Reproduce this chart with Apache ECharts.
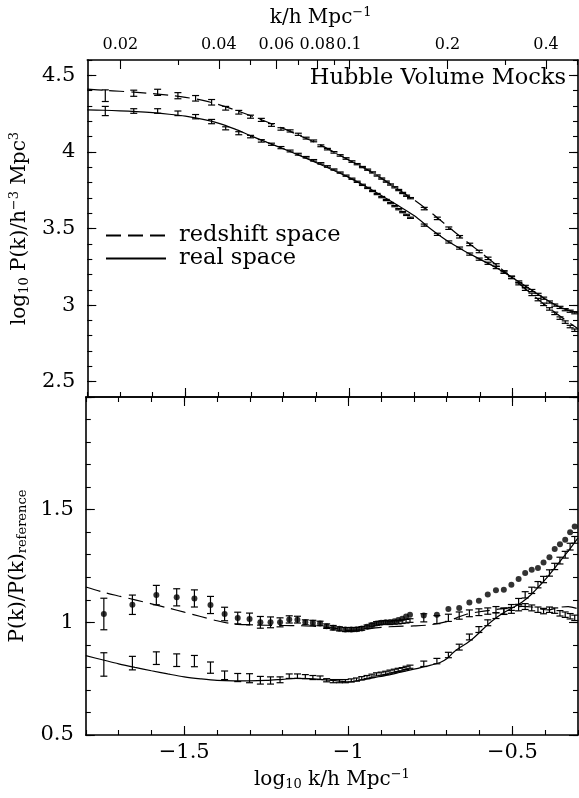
<!DOCTYPE html>
<html><head><meta charset="utf-8">
<script src="https://cdn.jsdelivr.net/npm/echarts@6/dist/echarts.min.js"></script>
<style>html,body{margin:0;padding:0;background:#fff}#c{width:579px;height:798px}</style>
</head><body><div id="c"></div>
<script>
// ---- data ----
const logK = [-1.745,-1.658,-1.585,-1.523,-1.469,-1.420,-1.377,-1.337,-1.301,-1.268,-1.237,-1.208,-1.180,-1.155,-1.131,-1.108,-1.086,-1.066,-1.046,-1.027,-1.009,-0.991,-0.975,-0.959,-0.943,-0.928,-0.914,-0.900,-0.886,-0.873,-0.860,-0.848,-0.836,-0.824,-0.812,-0.770,-0.730,-0.695,-0.662,-0.631,-0.602,-0.575,-0.550,-0.526,-0.503,-0.481,-0.461,-0.441,-0.422,-0.405,-0.387,-0.371,-0.355,-0.339,-0.324,-0.310];

const topRedshift = [4.367,4.383,4.389,4.367,4.350,4.324,4.285,4.259,4.230,4.209,4.176,4.150,4.137,4.115,4.090,4.072,4.040,4.018,3.997,3.977,3.957,3.937,3.920,3.901,3.884,3.866,3.846,3.826,3.806,3.787,3.769,3.751,3.732,3.714,3.698,3.630,3.566,3.502,3.446,3.396,3.350,3.305,3.262,3.216,3.180,3.140,3.104,3.070,3.036,3.005,2.975,2.946,2.915,2.889,2.860,2.836];
const topRedshiftErr = [0.038,0.020,0.020,0.020,0.018,0.018,0.012,0.012,0.010,0.010,0.009,0.008,0.007,0.007,0.006,0.006,0.006,0.005,0.005,0.005,0.005,0.005,0.004,0.004,0.004,0.004,0.004,0.004,0.004,0.004,0.004,0.004,0.004,0.004,0.004,0.008,0.008,0.008,0.008,0.008,0.008,0.008,0.008,0.008,0.008,0.008,0.008,0.008,0.008,0.008,0.008,0.008,0.008,0.008,0.008,0.008];
const topReal = [4.267,4.267,4.267,4.252,4.230,4.198,4.154,4.122,4.100,4.072,4.050,4.028,4.006,3.985,3.965,3.945,3.925,3.905,3.885,3.865,3.845,3.825,3.805,3.785,3.765,3.745,3.725,3.705,3.686,3.666,3.646,3.626,3.607,3.589,3.570,3.522,3.462,3.412,3.372,3.333,3.300,3.273,3.245,3.215,3.182,3.151,3.122,3.095,3.070,3.045,3.020,3.000,2.985,2.970,2.960,2.950];
const topRealErr = [0.030,0.015,0.015,0.015,0.014,0.014,0.010,0.010,0.008,0.008,0.007,0.007,0.006,0.006,0.005,0.005,0.005,0.005,0.004,0.004,0.004,0.004,0.004,0.004,0.004,0.004,0.004,0.004,0.004,0.004,0.004,0.004,0.004,0.004,0.004,0.007,0.007,0.007,0.007,0.007,0.007,0.007,0.007,0.007,0.007,0.007,0.007,0.007,0.007,0.007,0.007,0.007,0.007,0.007,0.007,0.007];

const ratioRedshift = [1.037,1.078,1.121,1.111,1.106,1.077,1.037,1.019,1.015,1.000,1.000,1.000,1.013,1.012,1.000,0.998,0.995,0.983,0.976,0.971,0.968,0.968,0.969,0.973,0.980,0.988,0.995,0.998,1.000,0.998,1.000,1.001,1.003,1.005,1.008,1.020,1.012,1.020,1.030,1.040,1.045,1.050,1.056,1.050,1.053,1.064,1.070,1.064,1.056,1.050,1.056,1.052,1.040,1.034,1.027,1.020];
const ratioRedshiftErr = [0.070,0.043,0.043,0.038,0.038,0.038,0.030,0.026,0.026,0.026,0.024,0.020,0.016,0.015,0.011,0.011,0.010,0.010,0.010,0.009,0.009,0.009,0.008,0.008,0.008,0.008,0.008,0.008,0.008,0.008,0.008,0.008,0.008,0.008,0.008,0.018,0.018,0.016,0.016,0.015,0.015,0.014,0.014,0.014,0.013,0.013,0.013,0.013,0.012,0.012,0.012,0.012,0.012,0.012,0.012,0.012];
const ratioDots = [1.037,1.078,1.121,1.111,1.106,1.077,1.037,1.019,1.015,1.000,1.000,1.000,1.013,1.012,1.000,0.998,0.995,0.983,0.976,0.971,0.968,0.968,0.969,0.973,0.980,0.988,0.995,0.998,1.000,1.001,1.005,1.010,1.016,1.026,1.034,1.030,1.034,1.059,1.064,1.088,1.096,1.123,1.142,1.145,1.167,1.192,1.219,1.233,1.241,1.265,1.289,1.325,1.347,1.366,1.400,1.425];
const ratioReal = [0.813,0.819,0.841,0.832,0.828,0.799,0.765,0.755,0.752,0.743,0.742,0.745,0.761,0.761,0.759,0.755,0.754,0.743,0.739,0.739,0.739,0.742,0.746,0.752,0.757,0.763,0.769,0.772,0.776,0.781,0.785,0.789,0.792,0.798,0.803,0.816,0.828,0.855,0.890,0.935,0.968,0.998,1.030,1.048,1.066,1.093,1.122,1.142,1.167,1.190,1.219,1.248,1.274,1.300,1.336,1.366];
const ratioRealErr = [0.052,0.030,0.028,0.028,0.025,0.025,0.019,0.018,0.020,0.017,0.016,0.013,0.010,0.010,0.009,0.009,0.008,0.007,0.007,0.007,0.007,0.007,0.007,0.007,0.007,0.007,0.007,0.007,0.007,0.007,0.007,0.007,0.007,0.007,0.007,0.012,0.012,0.012,0.013,0.013,0.013,0.013,0.013,0.013,0.013,0.013,0.014,0.014,0.014,0.014,0.014,0.014,0.015,0.015,0.015,0.015];

const lineTopRedshift = [[-1.80,4.410],[-1.745,4.402],[-1.70,4.396],[-1.658,4.390],[-1.60,4.381],[-1.55,4.370],[-1.50,4.356],[-1.45,4.338],[-1.40,4.310],[-1.35,4.275],[-1.30,4.236],[-1.25,4.195],[-1.20,4.152],[-1.15,4.105],[-1.10,4.058],[-1.05,4.004],[-1.00,3.946],[-0.95,3.890],[-0.90,3.826],[-0.85,3.756],[-0.80,3.685],[-0.75,3.605],[-0.70,3.517],[-0.65,3.430],[-0.60,3.348],[-0.55,3.263],[-0.50,3.176],[-0.45,3.087],[-0.40,3.000],[-0.35,2.920],[-0.30,2.846]];
const lineTopReal = [[-1.80,4.274],[-1.75,4.272],[-1.70,4.268],[-1.65,4.263],[-1.60,4.256],[-1.55,4.246],[-1.50,4.233],[-1.45,4.214],[-1.40,4.188],[-1.35,4.150],[-1.30,4.105],[-1.25,4.062],[-1.20,4.020],[-1.15,3.976],[-1.10,3.930],[-1.05,3.882],[-1.00,3.832],[-0.95,3.776],[-0.90,3.714],[-0.85,3.650],[-0.80,3.583],[-0.75,3.497],[-0.70,3.420],[-0.65,3.357],[-0.60,3.300],[-0.55,3.244],[-0.50,3.178],[-0.45,3.110],[-0.40,3.040],[-0.35,2.982],[-0.30,2.950]];
const lineRatioRedshift = [[-1.80,1.157],[-1.75,1.135],[-1.70,1.117],[-1.65,1.100],[-1.60,1.082],[-1.55,1.064],[-1.50,1.045],[-1.45,1.026],[-1.40,1.007],[-1.35,0.993],[-1.30,0.989],[-1.25,0.987],[-1.20,0.986],[-1.15,0.985],[-1.10,0.982],[-1.05,0.975],[-1.02,0.968],[-1.00,0.964],[-0.97,0.966],[-0.94,0.972],[-0.90,0.978],[-0.85,0.982],[-0.80,0.984],[-0.75,0.989],[-0.70,1.003],[-0.67,1.020],[-0.64,1.036],[-0.60,1.047],[-0.55,1.057],[-0.50,1.066],[-0.47,1.071],[-0.44,1.068],[-0.41,1.058],[-0.39,1.055],[-0.36,1.066],[-0.33,1.070],[-0.30,1.060]];
const lineRatioReal = [[-1.80,0.852],[-1.75,0.834],[-1.70,0.816],[-1.65,0.800],[-1.60,0.785],[-1.55,0.771],[-1.50,0.758],[-1.45,0.749],[-1.40,0.742],[-1.35,0.740],[-1.30,0.740],[-1.25,0.742],[-1.20,0.747],[-1.16,0.751],[-1.12,0.750],[-1.08,0.746],[-1.04,0.741],[-1.00,0.736],[-0.96,0.744],[-0.92,0.755],[-0.88,0.766],[-0.84,0.779],[-0.80,0.792],[-0.76,0.806],[-0.72,0.822],[-0.70,0.838],[-0.68,0.866],[-0.66,0.888],[-0.64,0.906],[-0.62,0.928],[-0.60,0.955],[-0.575,0.990],[-0.545,1.025],[-0.52,1.048],[-0.495,1.068],[-0.47,1.090],[-0.445,1.120],[-0.42,1.158],[-0.394,1.200],[-0.37,1.243],[-0.344,1.290],[-0.32,1.335],[-0.30,1.375]];

// tick labels
const xMajor = [-1.5, -1, -0.5];
const kMajor = [0.02, 0.04, 0.06, 0.08, 0.1, 0.2, 0.4];
const kMinor = [0.03, 0.05, 0.07, 0.09, 0.3, 0.5];
const yTopLabels = [2.5, 3, 3.5, 4, 4.5];
const yBotLabels = [0.5, 1, 1.5];
const yBotMajor = [0.5, 1, 1.5, 2];

// ---- chart ----
const FONT = 'DejaVu Serif';
function range(a, b, s) { const o = []; for (let i = 0; a + i * s <= b + 1e-9; i++) o.push(Math.round((a + i * s) * 1000) / 1000); return o; }
const xMinor = range(-1.8, -0.3, 0.1);
const X0 = -1.8, X1 = -0.3;

function ax(o) {
  return {
    type: 'value', gridIndex: o.grid, position: o.pos, min: o.min, max: o.max,
    axisLine: { show: !!o.line, onZero: false, lineStyle: { color: '#000', width: 1.6 } },
    axisTick: { show: true, inside: true, length: o.len, customValues: o.ticks, lineStyle: { color: '#000', width: 1.1 } },
    axisLabel: o.labels ? { show: true, customValues: o.labels, formatter: o.fmt, margin: o.margin, fontFamily: FONT, fontSize: o.fs, color: '#000' } : { show: false },
    splitLine: { show: false },
    name: o.name || '', nameLocation: 'middle', nameGap: o.nameGap || 0, nameRotate: o.nameRotate || 0,
    nameTextStyle: o.nameStyle || {}
  };
}
const minusFmt = v => (v < 0 ? '\u2212' : '') + Math.abs(v);
const kFmt = v => String(Math.round(Math.pow(10, v) * 100) / 100);
const richName = {
  a: { fontFamily: FONT, fontSize: 20, color: '#000', verticalAlign: 'middle' },
  s: { fontFamily: FONT, fontSize: 13, color: '#000', padding: [10, 0, 0, 0], verticalAlign: 'middle' },
  u: { fontFamily: FONT, fontSize: 13, color: '#000', padding: [0, 0, 10, 0], verticalAlign: 'middle' }
};

const xAxes = [
  ax({ grid: 0, pos: 'bottom', min: X0, max: X1, line: true, len: 9, ticks: xMajor }),
  ax({ grid: 0, pos: 'bottom', min: X0, max: X1, len: 5, ticks: xMinor }),
  ax({ grid: 0, pos: 'top', min: X0, max: X1, line: true, len: 9, ticks: kMajor.map(Math.log10),
       labels: kMajor.map(Math.log10), fmt: kFmt, margin: 7, fs: 16,
       name: '{a|k/h Mpc}{u|\u22121}', nameGap: 31, nameStyle: { rich: richName, padding: [0, 24, 0, 0] } }),
  ax({ grid: 0, pos: 'top', min: X0, max: X1, len: 5, ticks: kMinor.map(Math.log10) }),
  ax({ grid: 1, pos: 'bottom', min: X0, max: X1, line: true, len: 9, ticks: xMajor,
       labels: xMajor, fmt: minusFmt, margin: 7, fs: 21,
       name: '{a|log}{s|10}{a| k/h Mpc}{u|\u22121}', nameGap: 33, nameStyle: { rich: richName } }),
  ax({ grid: 1, pos: 'bottom', min: X0, max: X1, len: 5, ticks: xMinor }),
  ax({ grid: 1, pos: 'top', min: X0, max: X1, line: true, len: 9, ticks: xMajor }),
  ax({ grid: 1, pos: 'top', min: X0, max: X1, len: 5, ticks: xMinor })
];
const yAxes = [
  ax({ grid: 0, pos: 'left', min: 2.4, max: 4.6, line: true, len: 9, ticks: yTopLabels,
       labels: yTopLabels, fmt: v => String(v), margin: 12, fs: 21,
       name: '{a|log}{s|10}{a| P(k)/h}{u|\u22123}{a| Mpc}{u|3}', nameGap: 48, nameRotate: 90, nameStyle: { rich: richName } }),
  ax({ grid: 0, pos: 'left', min: 2.4, max: 4.6, len: 5, ticks: range(2.4, 4.6, 0.1) }),
  ax({ grid: 0, pos: 'right', min: 2.4, max: 4.6, line: true, len: 9, ticks: yTopLabels }),
  ax({ grid: 0, pos: 'right', min: 2.4, max: 4.6, len: 5, ticks: range(2.4, 4.6, 0.1) }),
  ax({ grid: 1, pos: 'left', min: 0.5, max: 2.0, line: true, len: 9, ticks: yBotMajor,
       labels: yBotLabels, fmt: v => String(v), margin: 12, fs: 21,
       name: '{a|P(k)/P(k)}{s|reference}', nameGap: 48, nameRotate: 90, nameStyle: { rich: richName } }),
  ax({ grid: 1, pos: 'left', min: 0.5, max: 2.0, len: 5, ticks: range(0.5, 2.0, 0.1) }),
  ax({ grid: 1, pos: 'right', min: 0.5, max: 2.0, line: true, len: 9, ticks: yBotMajor }),
  ax({ grid: 1, pos: 'right', min: 0.5, max: 2.0, len: 5, ticks: range(0.5, 2.0, 0.1) })
];

function errBar(params, api) {
  const x = api.value(0), y = api.value(1), e = api.value(2);
  const lo = api.coord([x, y - e]), hi = api.coord([x, y + e]);
  const st = { stroke: '#000', lineWidth: 1.2 };
  const c = 3.5;
  return { type: 'group', children: [
    { type: 'line', shape: { x1: lo[0], y1: lo[1], x2: hi[0], y2: hi[1] }, style: st },
    { type: 'line', shape: { x1: lo[0] - c, y1: lo[1], x2: lo[0] + c, y2: lo[1] }, style: st },
    { type: 'line', shape: { x1: hi[0] - c, y1: hi[1], x2: hi[0] + c, y2: hi[1] }, style: st }
  ] };
}
function bars(name, vals, errs, xi, yi) {
  return { type: 'custom', name, xAxisIndex: xi, yAxisIndex: yi, renderItem: errBar, clip: true,
    encode: { x: 0, y: 1 }, data: logK.map((x, i) => [x, vals[i], errs[i]]), silent: true, z: 3 };
}
function line(name, data, dashed, xi, yi) {
  return { type: 'line', name, xAxisIndex: xi, yAxisIndex: yi, data, symbol: 'none', smooth: 0.3,
    lineStyle: { color: '#000', width: 1.2, type: dashed ? [15, 7] : 'solid' }, itemStyle: { color: '#000' }, silent: true, z: 2 };
}

const option = {
  animation: false,
  backgroundColor: '#fff',
  grid: [
    { left: 84, right: 1, top: 60, height: 337 },
    { left: 84, right: 1, top: 397, height: 338 }
  ],
  title: { text: 'Hubble Volume Mocks', right: 8, top: 62,
    textStyle: { fontFamily: FONT, fontSize: 22.5, fontWeight: 'normal', color: '#000' } },
  legend: {
    data: ['redshift space', 'real space'], orient: 'vertical', left: 100, top: 219,
    itemWidth: 60, itemHeight: 10, itemGap: 0, selectedMode: false,
    itemStyle: { opacity: 0 },
    textStyle: { fontFamily: FONT, fontSize: 22.5, lineHeight: 23, color: '#000', padding: [0, 0, 0, 8] }
  },
  xAxis: xAxes,
  yAxis: yAxes,
  series: [
    bars('redshift bars', topRedshift, topRedshiftErr, 0, 0),
    bars('real bars', topReal, topRealErr, 0, 0),
    line('redshift space', lineTopRedshift, true, 0, 0),
    line('real space', lineTopReal, false, 0, 0),
    bars('ratio redshift bars', ratioRedshift, ratioRedshiftErr, 4, 4),
    bars('ratio real bars', ratioReal, ratioRealErr, 4, 4),
    { type: 'scatter', name: 'ratio dots', xAxisIndex: 4, yAxisIndex: 4, symbol: 'circle', symbolSize: 6,
      itemStyle: { color: '#000' }, data: logK.map((x, i) => [x, ratioDots[i]]), silent: true, z: 4 },
    line('ratio redshift model', lineRatioRedshift, true, 4, 4),
    line('ratio real model', lineRatioReal, false, 4, 4)
  ]
};
const chart = echarts.init(document.getElementById('c'), null, { renderer: 'canvas' });
chart.setOption(option);
</script></body></html>
